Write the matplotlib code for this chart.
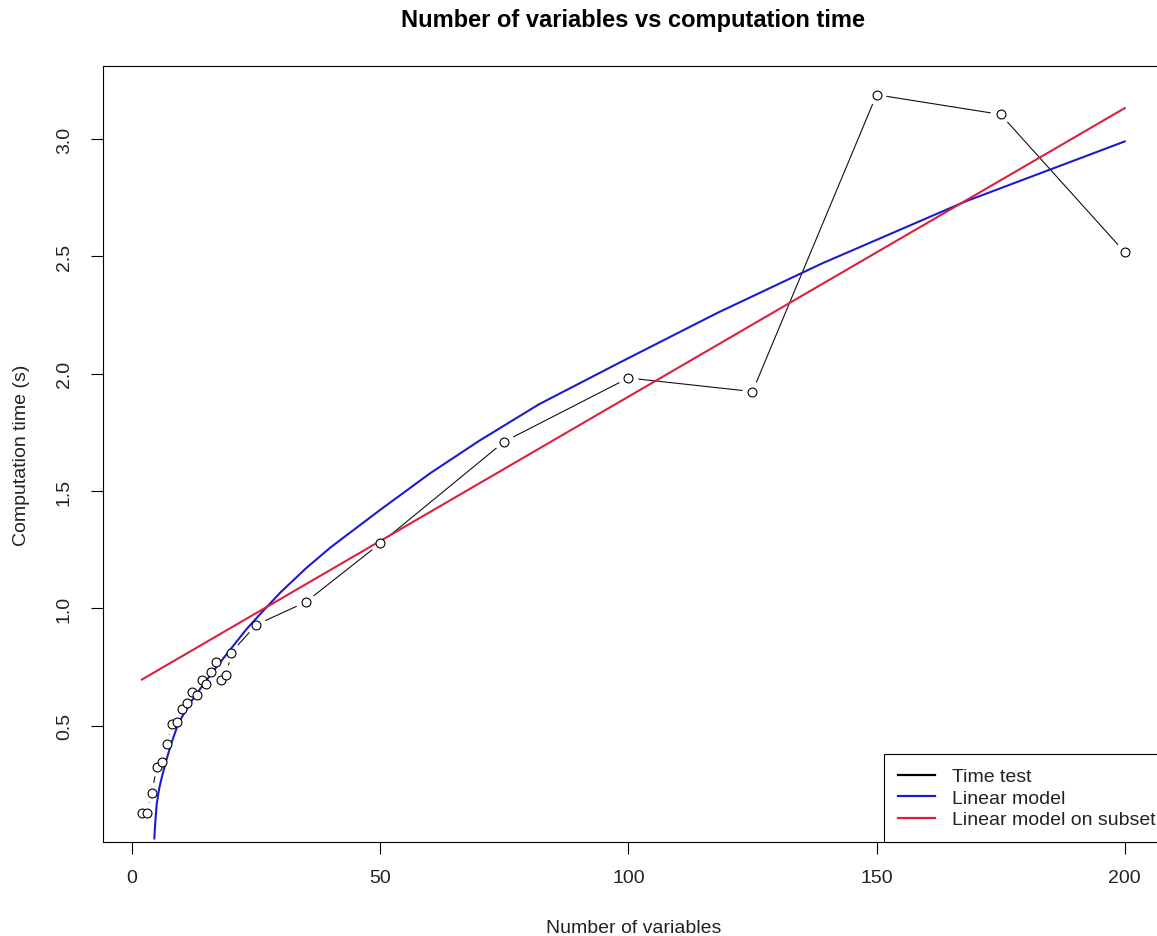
import numpy as np
import matplotlib
matplotlib.use('Agg')
import matplotlib.pyplot as plt
from matplotlib.collections import LineCollection
from matplotlib.lines import Line2D

# DATA

# time test measurements
n_vars = [2, 3, 4, 5, 6, 7, 8, 9, 10, 11, 12, 13, 14, 15, 16, 17, 18, 19, 20,
          25, 35, 50, 75, 100, 125, 150, 175, 200]
comp_time = [0.127, 0.130, 0.215, 0.326, 0.347, 0.422, 0.507, 0.514, 0.571,
             0.598, 0.645, 0.631, 0.695, 0.678, 0.728, 0.771, 0.695, 0.716,
             0.812, 0.930, 1.027, 1.277, 1.711, 1.982, 1.924, 3.189, 3.105,
             2.518]

# fitted curve of the linear model
model_x = [4.5, 4.6, 4.8, 5.0, 5.5, 6.0, 7.0, 8.0, 9.0, 10.0, 12.0, 14.0,
           17.0, 20.0, 23.0, 26.0, 30.0, 35.0, 40.0, 50.0, 60.0, 70.0, 82.0,
           98.0, 118.0, 139.0, 168.0, 200.0]
model_y = [0.02, 0.06, 0.12, 0.17, 0.235, 0.28, 0.36, 0.43, 0.49, 0.535,
           0.605, 0.665, 0.75, 0.83, 0.91, 0.98, 1.07, 1.17, 1.26, 1.42,
           1.575, 1.715, 1.87, 2.045, 2.26, 2.47, 2.735, 2.99]

# linear model on subset (straight line)
subset_x = [2, 200]
subset_y = [0.697, 3.132]

x_ticks = [0, 50, 100, 150, 200]
y_ticks = [0.5, 1.0, 1.5, 2.0, 2.5, 3.0]

BLUE = '#1c1ccf'
RED = '#dc1f3e'

# PLOT

plt.rcParams['font.family'] = ['Liberation Sans', 'DejaVu Sans']

fig = plt.figure(figsize=(11.57, 9.37), dpi=100)
ax = fig.add_axes([0.0887, 0.1003, 0.9174, 0.8282])

# R style: 4% padding on each side
pad_x = 0.04 * (max(n_vars) - min(n_vars))
pad_y = 0.04 * (max(comp_time) - min(comp_time))
ax.set_xlim(min(n_vars) - pad_x, max(n_vars) + pad_x)
ax.set_ylim(min(comp_time) - pad_y, max(comp_time) + pad_y)


def gapped_segments(ax, xs, ys, gap_px):
    """ Line segments between points, cut back around each point (type='b'). """
    pts = ax.transData.transform(np.column_stack([xs, ys]))
    inv = ax.transData.inverted()
    segs = []
    for p0, p1 in zip(pts[:-1], pts[1:]):
        d = p1 - p0
        length = np.hypot(d[0], d[1])
        if length <= 2 * gap_px:
            continue
        u = d / length
        segs.append([inv.transform(p0 + u * gap_px),
                     inv.transform(p1 - u * gap_px)])
    return segs


segs = gapped_segments(ax, n_vars, comp_time, 10)
ax.add_collection(LineCollection(segs, colors='#111111', linewidths=0.8))
ax.plot(n_vars, comp_time, linestyle='none', marker='o', markersize=6.4,
        markerfacecolor='white', markeredgecolor='black', markeredgewidth=0.8,
        zorder=3)

ax.plot(model_x, model_y, color=BLUE, linewidth=1.5, zorder=2)
ax.plot(subset_x, subset_y, color=RED, linewidth=1.5, zorder=2)

# axes styling
for sp in ax.spines.values():
    sp.set_color('black')
    sp.set_linewidth(0.8)
ax.set_xticks(x_ticks)
ax.set_yticks(y_ticks)
ax.set_yticklabels(['{:.1f}'.format(v) for v in y_ticks])
ax.tick_params(axis='both', length=8.5, width=0.8, labelsize=14,
               color='black', labelcolor='#222222')
ax.tick_params(axis='x', pad=11)
ax.tick_params(axis='y', pad=13)
for lbl in ax.get_yticklabels():
    lbl.set_rotation(90)
    lbl.set_va('center')

ax.set_xlabel('Number of variables', fontsize=14, color='#222222')
ax.xaxis.set_label_coords(0.5, -0.116)
ax.xaxis.label.set_va('baseline')
ax.set_ylabel('Computation time (s)', fontsize=14, color='#222222')
ax.yaxis.set_label_coords(-0.076, 0.5)
ax.yaxis.label.set_va('center')

fig.text(0.5474, 1 - 27 / 937, 'Number of variables vs computation time',
         ha='center', va='baseline', fontsize=17, fontweight='bold')

# legend
handles = [Line2D([], [], color='black', linewidth=1.6),
           Line2D([], [], color=BLUE, linewidth=1.6),
           Line2D([], [], color=RED, linewidth=1.6)]
labels = ['Time test', 'Linear model', 'Linear model on subset']
lg = ax.legend(handles, labels, loc='lower right', bbox_to_anchor=(1.005, 0.0),
               borderaxespad=0, fontsize=14, frameon=True, fancybox=False,
               framealpha=1, edgecolor='black', handlelength=1.9,
               handletextpad=0.9, labelspacing=0.2, borderpad=0.7)
lg.get_frame().set_linewidth(0.8)
for t in lg.get_texts():
    t.set_color('#222222')

fig.savefig('out.png', dpi=100)
